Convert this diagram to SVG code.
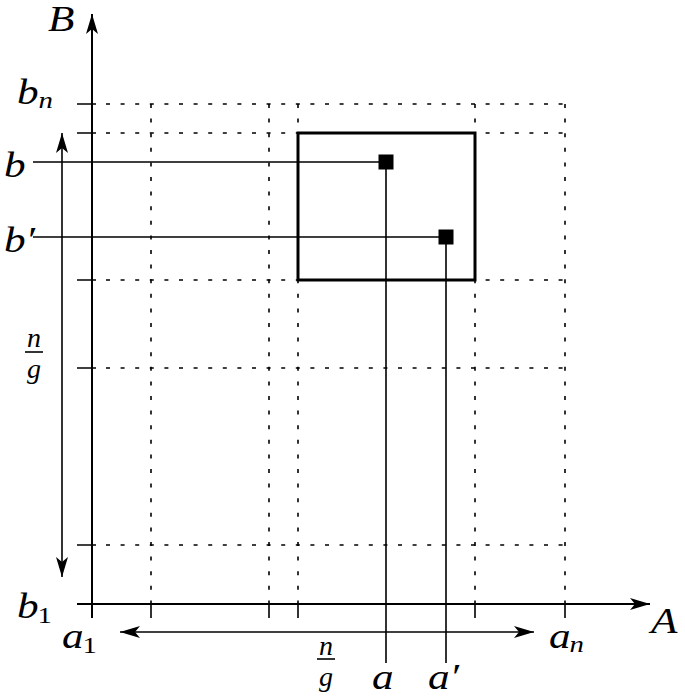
<svg xmlns="http://www.w3.org/2000/svg" width="685" height="697" viewBox="0 0 685 697">
<defs>
<marker id="ah" viewBox="0 0 20 12" refX="20" refY="6" markerWidth="20" markerHeight="12" markerUnits="userSpaceOnUse" orient="auto-start-reverse">
<path d="M0,0 L20,6 L0,12 L5,6 Z" fill="#000"/>
</marker>
<style>
.ax{stroke:#000;stroke-width:2;fill:none}
.ln{stroke:#000;stroke-width:1.6;fill:none}
.dot{stroke:#000;stroke-width:1.6;stroke-dasharray:4 10.6;fill:none}
.box{stroke:#000;stroke-width:3;fill:none}
.t{font-family:"Liberation Serif","Times New Roman",serif;font-style:italic;font-size:36px;fill:#000}
.s{font-style:normal;font-size:24px}
.si{font-size:24px}
.f{font-family:"Liberation Serif","Times New Roman",serif;font-style:italic;font-size:28px;fill:#000}
</style>
</defs>
<g id="grid">
<path class="dot" d="M106,104 H565 M106,133 H565 M106,280 H565 M106,368 H565 M106,545 H565"/>
<path class="dot" d="M151,104 V604 M269,104 V604 M298,104 V604 M475,104 V604 M565,104 V604"/>
</g>
<g id="connectors">
<path class="ax" d="M92,618 V14" marker-end="url(#ah)"/>
<path class="ax" d="M77,604 H650" marker-end="url(#ah)"/>
<path class="ln" d="M77,104 H96 M77,133 H96 M77,280 H96 M77,368 H96 M77,545 H96"/>
<path class="ln" d="M151,604 V618 M269,604 V618 M298,604 V618 M475,604 V618 M565,604 V618"/>
<path class="ln" d="M62,133 V577" marker-start="url(#ah)" marker-end="url(#ah)"/>
<path class="ln" d="M120,632 H534" marker-start="url(#ah)" marker-end="url(#ah)"/>
<path class="ln" d="M33,162 H386 V663"/>
<path class="ln" d="M33,237 H446 V663"/>
</g>
<g id="box"><rect class="box" x="298" y="133" width="177" height="147"/></g>
<g id="point-a"><rect x="378.5" y="154.5" width="15" height="15" fill="#000"/></g>
<g id="point-a2"><rect x="438.5" y="229.5" width="15" height="15" fill="#000"/></g>
<g id="labels">
<text class="t" transform="translate(48,31) scale(1.2,1)">B</text>
<text class="t" transform="translate(17,104) scale(1.2,1)">b<tspan class="si" dy="4">n</tspan></text>
<text class="t" transform="translate(4,177) scale(1.2,1)">b</text>
<text class="t" transform="translate(4,252) scale(1.2,1)">b′</text>
<g class="f" text-anchor="middle"><text x="34" y="347">n</text><text x="34" y="378">g</text></g>
<path class="ln" d="M25,352 H43"/>
<text class="t" transform="translate(17,618) scale(1.2,1)">b<tspan class="s" dx="-1" dy="5">1</tspan></text>
<text class="t" transform="translate(62,648) scale(1.2,1)">a<tspan class="s" dx="-1" dy="5">1</tspan></text>
<text class="t" transform="translate(549,648) scale(1.2,1)">a<tspan class="si" dx="-1" dy="4">n</tspan></text>
<text class="t" transform="translate(651,633) scale(1.2,1)">A</text>
<g class="f" text-anchor="middle"><text x="326" y="655">n</text><text x="326" y="686">g</text></g>
<path class="ln" d="M317,659 H335"/>
<text class="t" transform="translate(372,689) scale(1.2,1)">a</text>
<text class="t" transform="translate(428,689) scale(1.2,1)">a′</text>
</g>
</svg>
